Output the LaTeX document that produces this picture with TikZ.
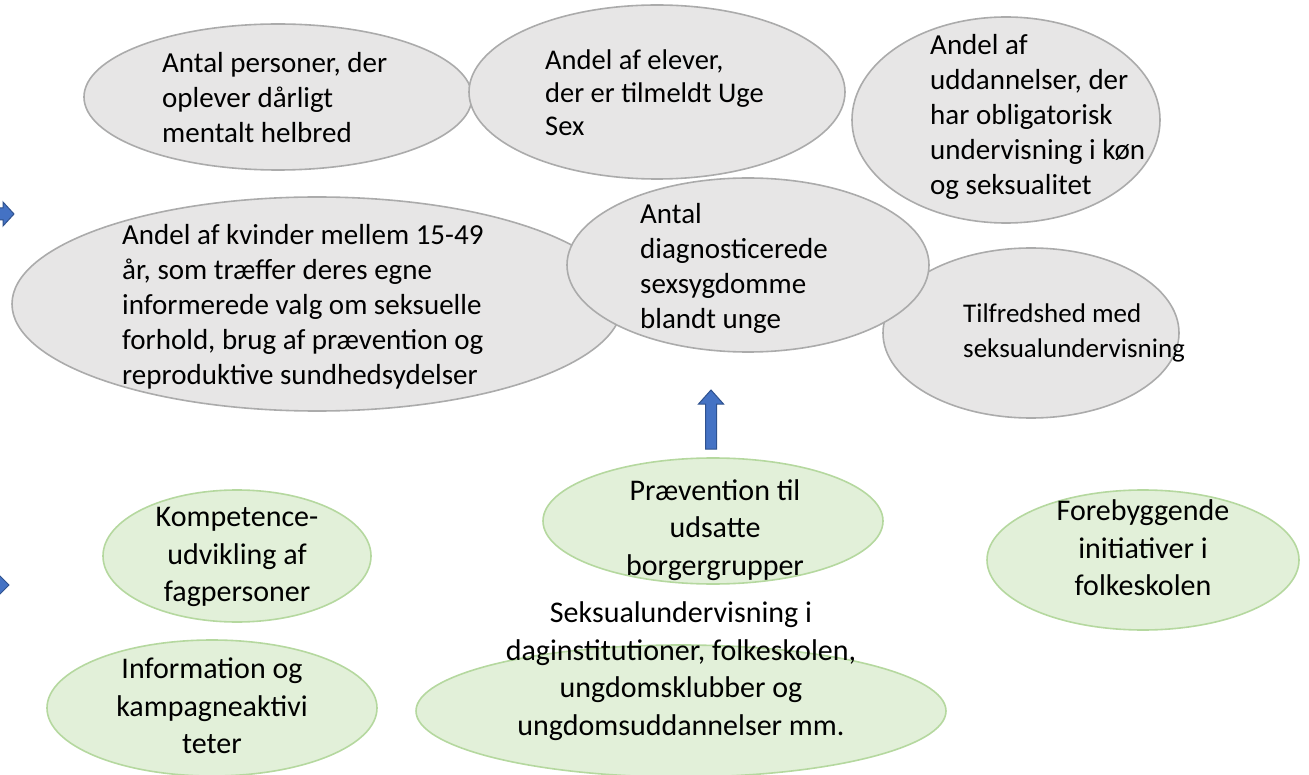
\documentclass[tikz,border=0pt]{standalone}
\usepackage{fontspec}
\setmainfont{Carlito}
\usetikzlibrary{shapes.geometric,calc}
\definecolor{graafyld}{HTML}{E7E6E6}
\definecolor{graakant}{HTML}{ABABAB}
\definecolor{groenfyld}{HTML}{E2F0D9}
\definecolor{groenkant}{HTML}{B5D89F}
\definecolor{pilfyld}{HTML}{4472C4}
\definecolor{pilkant}{HTML}{2F528F}

\begin{document}
\begin{tikzpicture}[x=1pt,y=-1pt,
    maal/.style={ellipse,draw=graakant,fill=graafyld,line width=1.6pt,inner sep=0pt},
    tiltag/.style={ellipse,draw=groenkant,fill=groenfyld,line width=1.6pt,inner sep=0pt},
    maaltekst/.style={anchor=west,align=left,inner sep=0pt,font=\fontsize{29}{35}\selectfont},
    tiltagtekst/.style={align=center,inner sep=0pt,font=\fontsize{30}{37.5}\selectfont},
    blokpil/.style={fill=pilfyld,draw=pilkant,line width=1pt,line join=miter}]
    \useasboundingbox (0,0) rectangle (1309,775);

    %% maal (graa ellipser)
    \node[maal,minimum width=388pt,minimum height=146pt] (m1) at (278,97) {};
    \node[maal,minimum width=376pt,minimum height=174pt] (m2) at (657,92) {};
    \node[maal,minimum width=308pt,minimum height=206pt] (m3) at (1006,120) {};
    \node[maal,minimum width=610pt,minimum height=214pt] (m4) at (317,304) {};
    \node[maal,minimum width=296pt,minimum height=170pt] (m6) at (1031,333) {};
    \node[maal,minimum width=362pt,minimum height=174pt] (m5) at (748,265) {};

    \node[maaltekst] (t1) at (162,98) {Antal personer, der\\oplever dårligt\\mentalt helbred};
    \node[maaltekst,font=\fontsize{28.5}{33}\selectfont] (t2) at (545,93) {Andel af elever,\\der er tilmeldt Uge\\Sex};
    \node[maaltekst] (t3) at (930,117) {Andel af\\uddannelser, der\\har obligatorisk\\undervisning i køn\\og seksualitet};
    \node[maaltekst] (t4) at (122,307) {Andel af kvinder mellem 15-49\\år, som træffer deres egne\\informerede valg om seksuelle\\forhold, brug af prævention og\\reproduktive sundhedsydelser};
    \node[maaltekst] (t5) at (640,268) {Antal\\diagnosticerede\\sexsygdomme\\blandt unge};
    \node[maaltekst,font=\fontsize{27}{35}\selectfont] (t6) at (963,333) {Tilfredshed med\\seksualundervisning};

    %% tiltag (groenne ellipser)
    \node[tiltag,minimum width=268pt,minimum height=132pt] (g1) at (237,556) {};
    \node[tiltag,minimum width=340pt,minimum height=126pt] (g2) at (713,521) {};
    \node[tiltag,minimum width=312pt,minimum height=140pt] (g3) at (1143,560) {};
    \node[tiltag,minimum width=330pt,minimum height=136pt] (g4) at (212,708) {};
    \node[tiltag,minimum width=530pt,minimum height=132pt] (g5) at (681,711) {};

    \node[tiltagtekst] (s1) at (237,557) {Kompetence-\\udvikling af\\fagpersoner};
    \node[tiltagtekst] (s2) at (715,530) {Prævention til\\udsatte\\borgergrupper};
    \node[tiltagtekst] (s3) at (1143,548) {Forebyggende\\initiativer i\\folkeskolen};
    \node[tiltagtekst] (s4) at (212,706) {Information og\\kampagneaktivi\\teter};
    \node[tiltagtekst] (s5) at (681,671) {Seksualundervisning i\\daginstitutioner, folkeskolen,\\ungdomsklubber og\\ungdomsuddannelser mm.};

    %% pile
    \coordinate (pilspids) at (711,390);
    \draw[blokpil] (705.5,449) -- (705.5,404) -- (698.5,404) -- (pilspids)
        -- (723.5,404) -- (716.5,404) -- (716.5,449) -- cycle;
    \coordinate (venstre1) at (14,214);
    \draw[blokpil] (-20,208) -- (3,208) -- (3,202) -- (venstre1) -- (3,226) -- (3,220) -- (-20,220) -- cycle;
    \coordinate (venstre2) at (9,585);
    \draw[blokpil] (-20,579) -- (-2,579) -- (-2,574) -- (venstre2) -- (-2,596) -- (-2,591) -- (-20,591) -- cycle;
\end{tikzpicture}
\end{document}
